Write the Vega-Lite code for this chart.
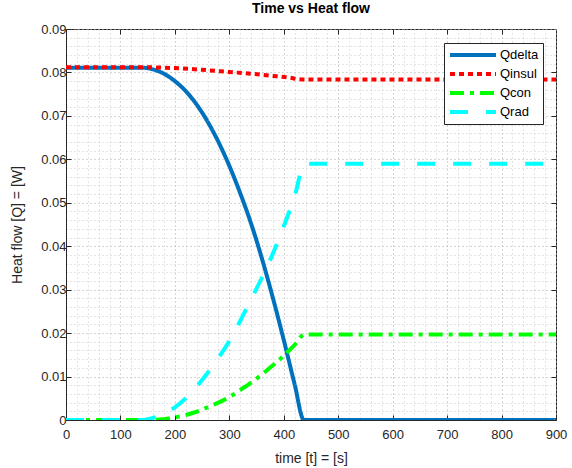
{
  "$schema": "https://vega.github.io/schema/vega-lite/v6.json",
  "width": 490,
  "height": 391,
  "autosize": "none",
  "padding": {"left": 66, "top": 29, "right": 16, "bottom": 48},
  "background": "white",
  "config": {
    "font": "Liberation Sans",
    "view": {"stroke": "#262626", "strokeWidth": 1}
  },
  "title": {"text": "Time vs Heat flow", "fontSize": 14, "fontWeight": "bold", "color": "#000000", "offset": 7, "font": "Liberation Sans"},
  "data": {"values": [
    {"t": 0, "series": "Qdelta", "q": 0.0811},
    {"t": 140, "series": "Qdelta", "q": 0.0811},
    {"t": 160, "series": "Qdelta", "q": 0.0807},
    {"t": 180, "series": "Qdelta", "q": 0.0797},
    {"t": 200, "series": "Qdelta", "q": 0.0780},
    {"t": 220, "series": "Qdelta", "q": 0.0757},
    {"t": 240, "series": "Qdelta", "q": 0.0726},
    {"t": 260, "series": "Qdelta", "q": 0.0687},
    {"t": 280, "series": "Qdelta", "q": 0.0640},
    {"t": 300, "series": "Qdelta", "q": 0.0585},
    {"t": 320, "series": "Qdelta", "q": 0.0522},
    {"t": 340, "series": "Qdelta", "q": 0.0452},
    {"t": 360, "series": "Qdelta", "q": 0.0371},
    {"t": 380, "series": "Qdelta", "q": 0.0281},
    {"t": 400, "series": "Qdelta", "q": 0.0184},
    {"t": 420, "series": "Qdelta", "q": 0.0082},
    {"t": 437, "series": "Qdelta", "q": 0},
    {"t": 900, "series": "Qdelta", "q": 0},
    {"t": 0, "series": "Qinsul", "q": 0.0812},
    {"t": 140, "series": "Qinsul", "q": 0.0812},
    {"t": 200, "series": "Qinsul", "q": 0.0810},
    {"t": 250, "series": "Qinsul", "q": 0.0806},
    {"t": 300, "series": "Qinsul", "q": 0.0801},
    {"t": 340, "series": "Qinsul", "q": 0.0797},
    {"t": 380, "series": "Qinsul", "q": 0.0792},
    {"t": 410, "series": "Qinsul", "q": 0.0788},
    {"t": 434, "series": "Qinsul", "q": 0.0784},
    {"t": 900, "series": "Qinsul", "q": 0.0784},
    {"t": 0, "series": "Qcon", "q": 0},
    {"t": 150, "series": "Qcon", "q": 0},
    {"t": 180, "series": "Qcon", "q": 0.0002},
    {"t": 200, "series": "Qcon", "q": 0.0006},
    {"t": 220, "series": "Qcon", "q": 0.00116},
    {"t": 240, "series": "Qcon", "q": 0.0019},
    {"t": 260, "series": "Qcon", "q": 0.0029},
    {"t": 280, "series": "Qcon", "q": 0.0040},
    {"t": 300, "series": "Qcon", "q": 0.0053},
    {"t": 320, "series": "Qcon", "q": 0.0069},
    {"t": 340, "series": "Qcon", "q": 0.0086},
    {"t": 360, "series": "Qcon", "q": 0.0105},
    {"t": 380, "series": "Qcon", "q": 0.0126},
    {"t": 400, "series": "Qcon", "q": 0.0148},
    {"t": 420, "series": "Qcon", "q": 0.0173},
    {"t": 438, "series": "Qcon", "q": 0.0197},
    {"t": 900, "series": "Qcon", "q": 0.0197},
    {"t": 0, "series": "Qrad", "q": 0},
    {"t": 140, "series": "Qrad", "q": 0},
    {"t": 160, "series": "Qrad", "q": 0.0005},
    {"t": 180, "series": "Qrad", "q": 0.0014},
    {"t": 200, "series": "Qrad", "q": 0.0029},
    {"t": 220, "series": "Qrad", "q": 0.0050},
    {"t": 240, "series": "Qrad", "q": 0.0077},
    {"t": 260, "series": "Qrad", "q": 0.0108},
    {"t": 280, "series": "Qrad", "q": 0.0143},
    {"t": 300, "series": "Qrad", "q": 0.0182},
    {"t": 320, "series": "Qrad", "q": 0.0228},
    {"t": 340, "series": "Qrad", "q": 0.0278},
    {"t": 360, "series": "Qrad", "q": 0.0328},
    {"t": 380, "series": "Qrad", "q": 0.0383},
    {"t": 400, "series": "Qrad", "q": 0.0446},
    {"t": 420, "series": "Qrad", "q": 0.0515},
    {"t": 438, "series": "Qrad", "q": 0.0590},
    {"t": 900, "series": "Qrad", "q": 0.0590}
  ]},
  "resolve": {"axis": {"x": "independent", "y": "independent"}},
  "layer": [
    {
      "mark": {"type": "line", "strokeWidth": 4, "strokeCap": "butt", "clip": true, "interpolate": "monotone"},
      "encoding": {
        "x": {
          "field": "t", "type": "quantitative",
          "scale": {"domain": [0, 900], "nice": false, "zero": false},
          "axis": {
            "orient": "bottom",
            "title": "time [t] = [s]",
            "titleFontSize": 14, "titleFontWeight": "normal", "titleColor": "#262626", "titlePadding": 10,
            "values": [0,20,40,60,80,100,120,140,160,180,200,220,240,260,280,300,320,340,360,380,400,420,440,460,480,500,520,540,560,580,600,620,640,660,680,700,720,740,760,780,800,820,840,860,880,900],
            "labelExpr": "datum.value % 100 === 0 ? datum.label : ''",
            "labelOverlap": false,
            "labelFlush": false,
            "labelFontSize": 13, "labelColor": "#262626", "labelPadding": 13,
            "format": "d",
            "domainColor": "#262626",
            "tickSize": -5, "tickColor": "#262626",
            "tickOpacity": {"condition": {"test": "datum.value % 100 === 0", "value": 1}, "value": 0},
            "grid": true,
            "gridColor": {"condition": {"test": "datum.value % 100 === 0", "value": "#aaaaaa"}, "value": "#c8c8c8"},
            "gridDash": [1, 3],
            "gridWidth": 1
          }
        },
        "y": {
          "field": "q", "type": "quantitative",
          "scale": {"domain": [0, 0.09], "nice": false, "zero": false},
          "axis": {
            "orient": "left",
            "title": "Heat flow [Q] = [W]",
            "titleFontSize": 14, "titleFontWeight": "normal", "titleColor": "#262626", "titlePadding": 16,
            "values": [0,0.002,0.004,0.006,0.008,0.01,0.012,0.014,0.016,0.018,0.02,0.022,0.024,0.026,0.028,0.03,0.032,0.034,0.036,0.038,0.04,0.042,0.044,0.046,0.048,0.05,0.052,0.054,0.056,0.058,0.06,0.062,0.064,0.066,0.068,0.07,0.072,0.074,0.076,0.078,0.08,0.082,0.084,0.086,0.088,0.09],
            "labelExpr": "abs(datum.value*100 - round(datum.value*100)) < 0.000001 ? format(datum.value, '.2~f') : ''",
            "labelOverlap": false,
            "labelFlush": false,
            "labelFontSize": 13, "labelColor": "#262626", "labelPadding": 5,
            "domainColor": "#262626",
            "tickSize": -5, "tickColor": "#262626",
            "tickOpacity": {"condition": {"test": "abs(datum.value*100 - round(datum.value*100)) < 0.000001", "value": 1}, "value": 0},
            "grid": true,
            "gridColor": {"condition": {"test": "abs(datum.value*100 - round(datum.value*100)) < 0.000001", "value": "#aaaaaa"}, "value": "#c8c8c8"},
            "gridDash": [1, 3],
            "gridWidth": 1
          }
        },
        "color": {
          "field": "series", "type": "nominal",
          "scale": {"domain": ["Qdelta", "Qinsul", "Qcon", "Qrad"], "range": ["#0072BD", "#FF0000", "#00FF00", "#00FFFF"]},
          "legend": {
            "title": null,
            "orient": "none",
            "legendX": 378,
            "legendY": 14,
            "symbolType": "stroke",
            "symbolSize": 2116,
            "symbolStrokeWidth": 4,
            "clipHeight": 16,
            "labelFontSize": 13,
            "labelColor": "#000000",
            "labelOffset": 2,
            "rowPadding": 3,
            "padding": 4,
            "fillColor": "white",
            "strokeColor": "#262626",
            "cornerRadius": 0
          }
        },
        "strokeDash": {
          "field": "series", "type": "nominal",
          "scale": {"domain": ["Qdelta", "Qinsul", "Qcon", "Qrad"], "range": [[1, 0], [5, 4], [14, 6, 4, 6], [18, 18]]},
          "legend": null
        }
      }
    },
    {
      "mark": {"type": "line", "opacity": 0},
      "encoding": {
        "x": {
          "field": "t", "type": "quantitative",
          "scale": {"domain": [0, 900], "nice": false, "zero": false},
          "axis": {"orient": "top", "title": null, "labels": false, "grid": false, "domain": false, "values": [100,200,300,400,500,600,700,800], "tickSize": -5, "tickColor": "#262626"}
        },
        "y": {
          "field": "q", "type": "quantitative",
          "scale": {"domain": [0, 0.09], "nice": false, "zero": false},
          "axis": {"orient": "right", "title": null, "labels": false, "grid": false, "domain": false, "values": [0.01,0.02,0.03,0.04,0.05,0.06,0.07,0.08], "tickSize": -5, "tickColor": "#262626"}
        },
        "detail": {"field": "series", "type": "nominal"}
      }
    }
  ]
}
